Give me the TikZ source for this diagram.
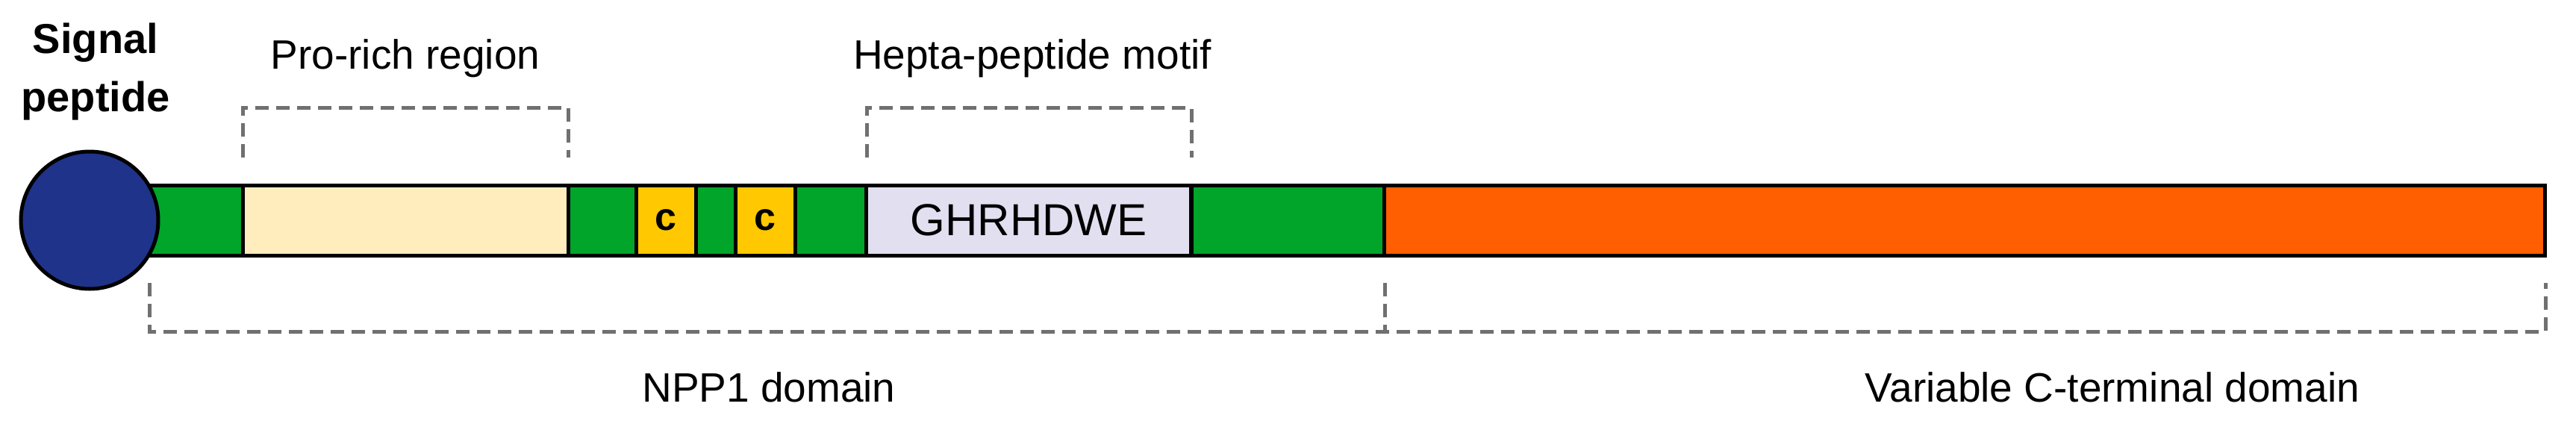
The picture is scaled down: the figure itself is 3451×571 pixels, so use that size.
\documentclass[tikz,border=0pt]{standalone}
\usepackage{fontspec}
\setmainfont{Liberation Sans}
\definecolor{grn}{HTML}{00A52A}
\definecolor{pro}{HTML}{FFEDBE}
\definecolor{cys}{HTML}{FFC800}
\definecolor{lav}{HTML}{E1DFF0}
\definecolor{org}{HTML}{FF5F00}
\definecolor{navy}{HTML}{1F338A}
\definecolor{dgray}{HTML}{707070}
\begin{document}
\begin{tikzpicture}[x=1pt,y=-1pt,
 seg/.style={draw=black,line width=5pt},
 brk/.style={draw=dgray,line width=5pt,dash pattern=on 18pt off 10pt},
 lab/.style={font=\fontsize{55}{60}\selectfont,inner sep=0pt}]
\useasboundingbox (0,0) rectangle (3451,571);
\path[seg,fill=grn] (200,248) rectangle (325,342);
\node[seg,fill=pro,minimum width=436pt,minimum height=94pt,inner sep=0pt] (pro) at (543,295) {};
\path[seg,fill=grn] (761,248) rectangle (852,342);
\node[seg,fill=cys,minimum width=80pt,minimum height=94pt,inner sep=0pt,font=\fontsize{52}{56}\selectfont\bfseries] (c1) at (892,295) {c};
\path[seg,fill=grn] (932,248) rectangle (985,342);
\node[seg,fill=cys,minimum width=80pt,minimum height=94pt,inner sep=0pt,font=\fontsize{52}{56}\selectfont\bfseries] (c2) at (1025,295) {c};
\path[seg,fill=grn] (1065,248) rectangle (1161,342);
\node[seg,fill=lav,minimum width=435pt,minimum height=94pt,inner sep=0pt,font=\fontsize{60}{64}\selectfont] (hep) at (1378,295) {GHRHDWE};
\path[seg,fill=grn] (1596,248) rectangle (1855,342);
\node[seg,fill=org,minimum width=1555pt,minimum height=94pt,inner sep=0pt] (var) at (2632,295) {};
\node[draw=black,line width=5pt,fill=navy,circle,minimum size=184pt,inner sep=0pt] (sp) at (120,295) {};
\node[lab,font=\fontsize{56}{78}\selectfont\bfseries,align=center] (spl) at (128,96) {Signal\\peptide};
\draw[brk] (325,211) -- (325,144) -- (761,144) -- (761,211);
\node[lab] (prol) at (543,78) {Pro-rich region};
\draw[brk] (1161,211) -- (1161,144) -- (1596,144) -- (1596,211);
\node[lab] (hepl) at (1383,78) {Hepta-peptide motif};
\draw[brk] (200,379) -- (200,444) -- (3410,444) -- (3410,379);
\draw[brk] (1855,379) -- (1855,444);
\node[lab] (npp) at (1030,519) {NPP1 domain};
\node[lab] (vcl) at (2830,519) {Variable C-terminal domain};
\end{tikzpicture}
\end{document}
